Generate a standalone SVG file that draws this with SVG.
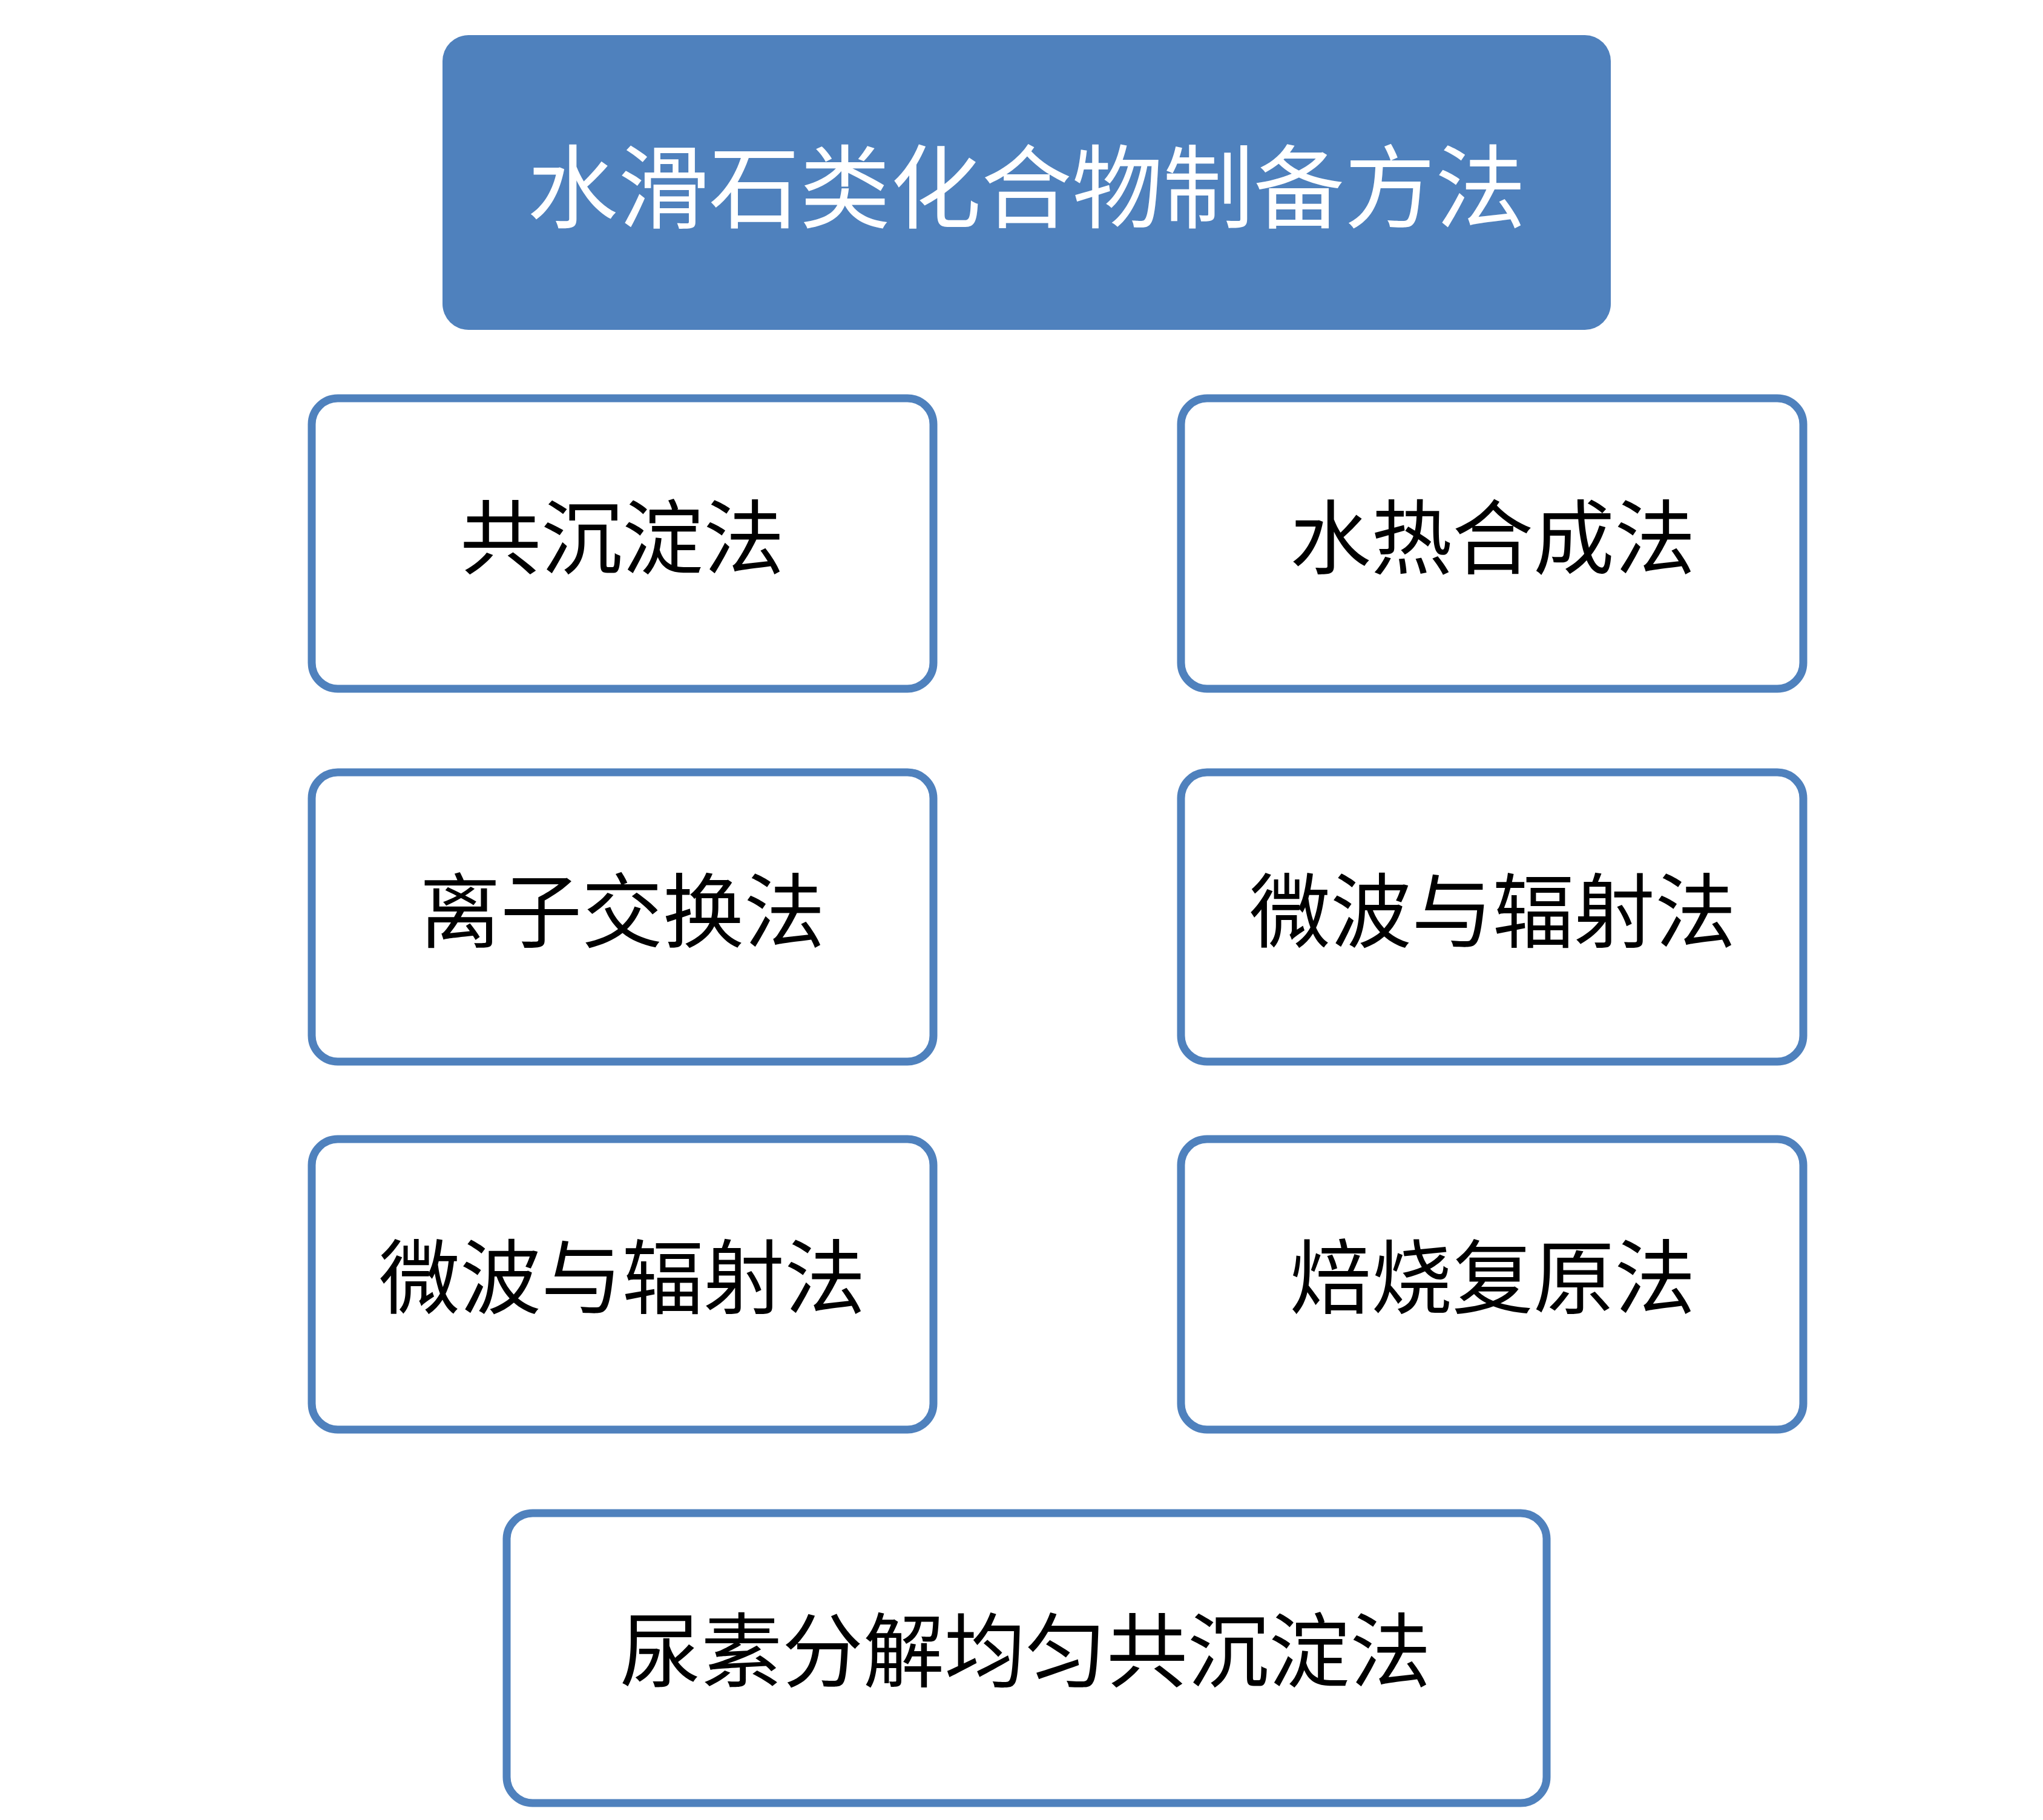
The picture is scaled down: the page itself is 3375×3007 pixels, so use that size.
<svg xmlns="http://www.w3.org/2000/svg" width="3375" height="3007" viewBox="0 0 3375 3007">
<style>
.b{fill:#fff;stroke:#4f81bd;stroke-width:13}
.t{font-family:"Liberation Serif","Noto Sans CJK SC",serif;font-size:134px;fill:#000;text-anchor:middle;dominant-baseline:central}
.h{font-family:"Noto Sans CJK SC",sans-serif;font-size:150px;fill:#fff;text-anchor:middle;dominant-baseline:central}
</style>
<rect width="3375" height="3007" fill="#fff"/>
<g id="title"><rect x="731" y="58" width="1930" height="487" rx="43" fill="#4f81bd"/><text class="h" x="1696" y="299">水滑石类化合物制备方法</text></g>
<g id="n1"><rect class="b" x="515" y="658" width="1027" height="480" rx="43"/><text class="t" x="1028" y="893">共沉淀法</text></g>
<g id="n2"><rect class="b" x="1951" y="658" width="1028" height="480" rx="43"/><text class="t" x="2466" y="893">水热合成法</text></g>
<g id="n3"><rect class="b" x="515" y="1276" width="1027" height="478" rx="43"/><text class="t" x="1028" y="1510">离子交换法</text></g>
<g id="n4"><rect class="b" x="1951" y="1276" width="1028" height="478" rx="43"/><text class="t" x="2466" y="1510">微波与辐射法</text></g>
<g id="n5"><rect class="b" x="515" y="1882" width="1027" height="480" rx="43"/><text class="t" x="1028" y="2115">微波与辐射法</text></g>
<g id="n6"><rect class="b" x="1951" y="1882" width="1028" height="480" rx="43"/><text class="t" x="2466" y="2115">焙烧复原法</text></g>
<g id="n7"><rect class="b" x="837" y="2500" width="1718" height="479" rx="43"/><text class="t" x="1694" y="2732">尿素分解均匀共沉淀法</text></g>
<g id="connectors"/>
</svg>
